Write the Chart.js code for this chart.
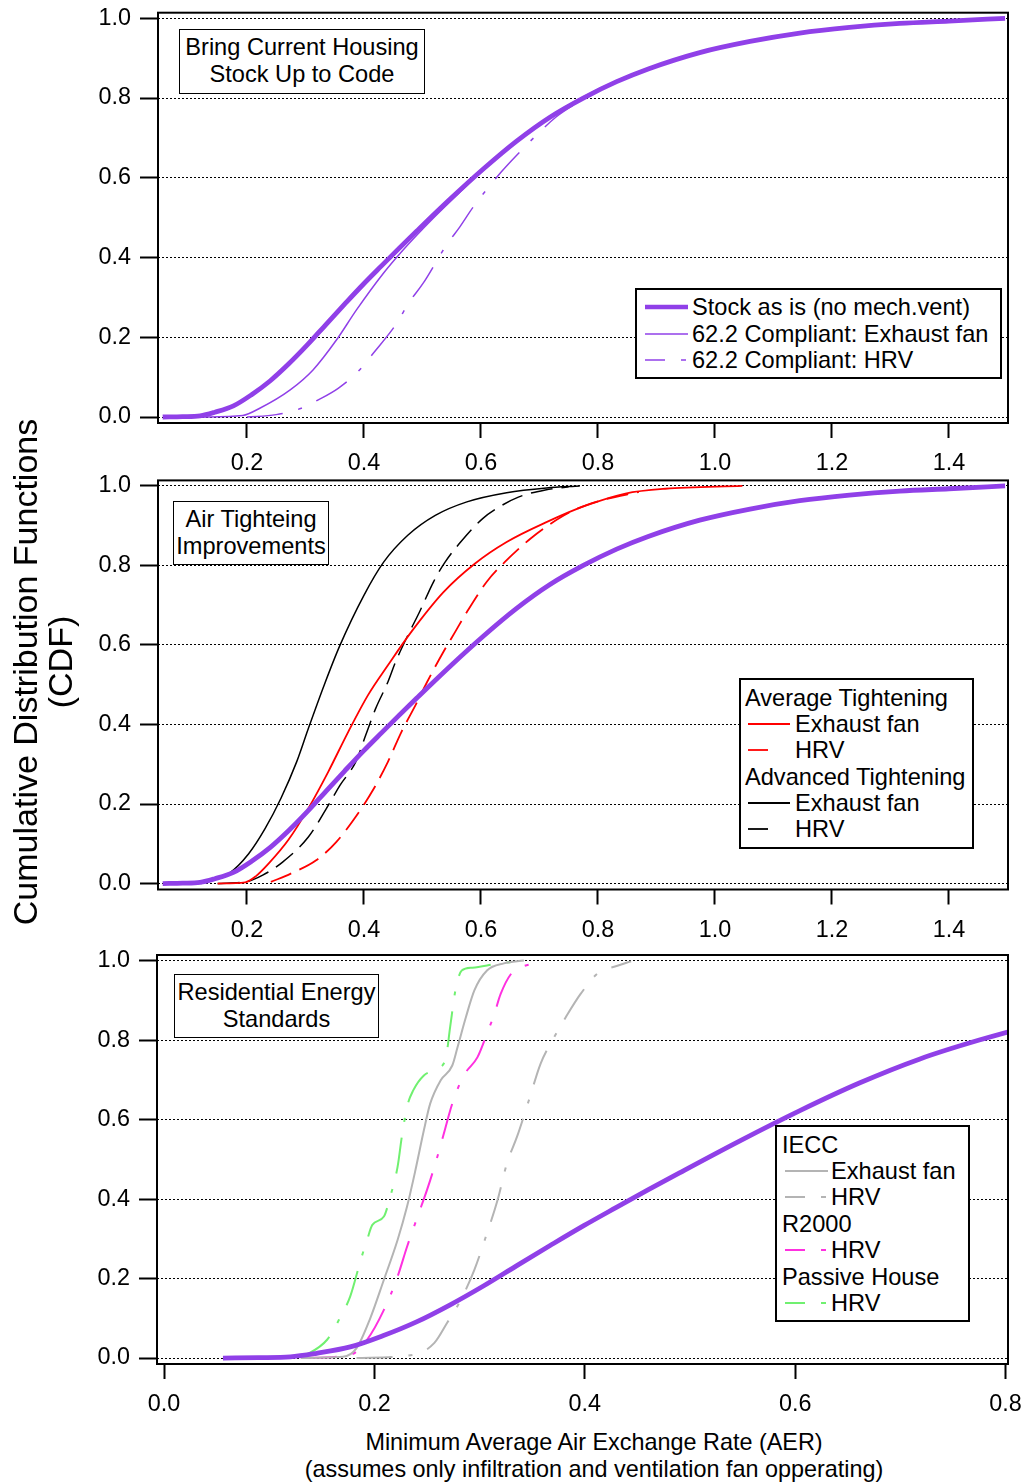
<!DOCTYPE html>
<html>
<head>
<meta charset="utf-8">
<script src="https://cdn.jsdelivr.net/npm/chart.js@4.4.1/dist/chart.umd.min.js"></script>
<style>
  body { margin: 0; background: #fff; font-family: "Liberation Sans", Arial, sans-serif; color: #000; }
  #page { position: relative; width: 1022px; height: 1483px; overflow: hidden; }
  .panel { position: absolute; left: 0; width: 1022px; }
  .box { position: absolute; border: 1.5px solid #000; background: #fff; box-sizing: border-box; }
  .note { text-align: center; font-size: 23.6px; line-height: 27px; padding-top: 4px; }
  .row { position: absolute; font-size: 23.6px; line-height: 26px; height: 26px; white-space: nowrap; }
  .vtitle { position: absolute; font-size: 34px; text-align: center; white-space: nowrap; transform: rotate(-90deg); }
  .xtitle { position: absolute; left: 294px; width: 600px; text-align: center; font-size: 23.4px; line-height: 27px; }
</style>
</head>
<body>
<div id="page">
  <div class="panel" style="top:0;height:490px"><canvas id="c1"></canvas></div>
  <div class="panel" style="top:470px;height:490px"><canvas id="c2"></canvas></div>
  <div class="panel" style="top:945px;height:470px"><canvas id="c3"></canvas></div>
</div>
<script>
// tick values
const yTicks = [0, 0.2, 0.4, 0.6, 0.8, 1.0];
const xTicksAer = [0.2, 0.4, 0.6, 0.8, 1.0, 1.2, 1.4];
const xTicksStd = [0, 0.2, 0.4, 0.6, 0.8];

// stock as is (no mech. vent) - shown in all three panels
const stockX = [0.056, 0.09, 0.12, 0.145, 0.177, 0.208, 0.24, 0.272, 0.304, 0.335, 0.367, 0.399, 0.43, 0.46, 0.49, 0.547, 0.604, 0.661, 0.718, 0.775, 0.832, 0.886, 0.974, 1.06, 1.145, 1.23, 1.316, 1.40, 1.496];
const stockY = [0, 0.001, 0.003, 0.012, 0.028, 0.056, 0.091, 0.134, 0.182, 0.232, 0.283, 0.333, 0.379, 0.423, 0.466, 0.546, 0.622, 0.692, 0.752, 0.8, 0.841, 0.873, 0.914, 0.942, 0.963, 0.977, 0.987, 0.993, 1.0];

// panel 1: 62.2 compliant
const exh622X = [0.12, 0.193, 0.222, 0.274, 0.313, 0.353, 0.387, 0.433, 0.467, 0.518, 0.576, 0.62, 0.68, 0.75, 0.85, 0.95];
const exh622Y = [0, 0.004, 0.022, 0.068, 0.118, 0.193, 0.268, 0.36, 0.419, 0.498, 0.581, 0.645, 0.716, 0.783, 0.855, 0.905];
const hrv622X = [0.2, 0.25, 0.293, 0.322, 0.356, 0.39, 0.416, 0.456, 0.476, 0.501, 0.541, 0.564, 0.587, 0.635, 0.664, 0.695, 0.729, 0.775];
const hrv622Y = [0, 0.006, 0.022, 0.043, 0.072, 0.114, 0.16, 0.235, 0.285, 0.335, 0.431, 0.477, 0.527, 0.615, 0.661, 0.707, 0.753, 0.798];

// panel 2: air tightening
const avgExhX = [0.15, 0.197, 0.215, 0.237, 0.271, 0.305, 0.339, 0.373, 0.407, 0.441, 0.481, 0.536, 0.59, 0.644, 0.712, 0.78, 0.847, 0.915, 1.047];
const avgExhY = [0, 0.003, 0.018, 0.05, 0.11, 0.189, 0.281, 0.381, 0.474, 0.549, 0.633, 0.733, 0.805, 0.859, 0.909, 0.951, 0.981, 0.993, 1.0];
const avgHrvX = [0.241, 0.275, 0.319, 0.353, 0.386, 0.417, 0.441, 0.464, 0.488, 0.508, 0.536, 0.556, 0.576, 0.61, 0.641, 0.685, 0.715, 0.759, 0.807, 0.87];
const avgHrvY = [0.004, 0.025, 0.059, 0.105, 0.168, 0.239, 0.306, 0.381, 0.448, 0.507, 0.583, 0.633, 0.683, 0.759, 0.809, 0.868, 0.901, 0.939, 0.964, 0.985];
const advExhX = [0.122, 0.169, 0.203, 0.231, 0.258, 0.285, 0.305, 0.332, 0.359, 0.4, 0.434, 0.475, 0.522, 0.576, 0.644, 0.712, 0.769];
const advExhY = [0, 0.025, 0.075, 0.138, 0.214, 0.306, 0.39, 0.499, 0.599, 0.725, 0.809, 0.876, 0.926, 0.96, 0.983, 0.995, 1.0];
const advHrvX = [0.15, 0.2, 0.227, 0.261, 0.305, 0.336, 0.359, 0.386, 0.403, 0.42, 0.441, 0.454, 0.475, 0.495, 0.519, 0.539, 0.573, 0.603, 0.631, 0.664, 0.71, 0.75];
const advHrvY = [0, 0.005, 0.021, 0.054, 0.117, 0.189, 0.247, 0.306, 0.373, 0.44, 0.507, 0.557, 0.624, 0.683, 0.759, 0.809, 0.872, 0.918, 0.947, 0.972, 0.99, 0.998];

// panel 3: residential energy standards
const ieccExhX = [0.13, 0.17, 0.183, 0.196, 0.209, 0.222, 0.231, 0.239, 0.247, 0.253, 0.263, 0.274, 0.279, 0.287, 0.295, 0.307, 0.323, 0.342];
const ieccExhY = [0, 0.003, 0.025, 0.1, 0.197, 0.297, 0.381, 0.473, 0.573, 0.64, 0.699, 0.736, 0.782, 0.858, 0.925, 0.975, 0.993, 1.0];
const ieccHrvX = [0.183, 0.237, 0.257, 0.269, 0.282, 0.295, 0.307, 0.317, 0.326, 0.336, 0.347, 0.358, 0.371, 0.382, 0.396, 0.412, 0.431, 0.444];
const ieccHrvY = [0, 0.008, 0.038, 0.088, 0.146, 0.222, 0.314, 0.397, 0.49, 0.56, 0.65, 0.741, 0.808, 0.858, 0.916, 0.967, 0.987, 0.998];
const r2000X = [0.13, 0.177, 0.193, 0.209, 0.222, 0.231, 0.241, 0.25, 0.258, 0.266, 0.274, 0.285, 0.298, 0.307, 0.314, 0.32, 0.33, 0.339, 0.361];
const r2000Y = [0, 0.008, 0.046, 0.121, 0.205, 0.28, 0.356, 0.423, 0.49, 0.565, 0.64, 0.711, 0.757, 0.816, 0.866, 0.916, 0.967, 0.983, 0.996];
const passiveX = [0.13, 0.155, 0.168, 0.177, 0.187, 0.193, 0.198, 0.209, 0.215, 0.222, 0.226, 0.231, 0.237, 0.247, 0.26, 0.268, 0.272, 0.277, 0.283, 0.293, 0.317, 0.336];
const passiveY = [0, 0.046, 0.105, 0.155, 0.247, 0.297, 0.335, 0.356, 0.406, 0.481, 0.556, 0.632, 0.674, 0.711, 0.728, 0.757, 0.833, 0.925, 0.975, 0.982, 0.992, 0.998];

const PURPLE = "#9040e8";
const RED = "#ff0000";
const GRAY = "#b4b4b4";
const MAGENTA = "#ff30e0";
const GREEN = "#70f070";
const DASH = [22, 9];
const DASHDOT = [36, 16, 4, 16];

Chart.defaults.font.family = '"Liberation Sans", Arial, sans-serif';
Chart.defaults.font.size = 23.4;
Chart.defaults.color = "#000";

function series(xs, ys, color, width, dash) {
  return {
    data: xs.map((x, i) => ({ x: x, y: ys[i] })),
    borderColor: color,
    borderWidth: width,
    borderDash: dash || [],
    pointRadius: 0,
    fill: false,
    cubicInterpolationMode: "monotone"
  };
}

const framePlugin = {
  id: "frame",
  afterDatasetsDraw(chart) {
    const a = chart.chartArea;
    const ctx = chart.ctx;
    ctx.save();
    ctx.setLineDash([]);
    ctx.strokeStyle = "#000";
    ctx.lineWidth = 2;
    ctx.strokeRect(a.left, a.top, a.right - a.left, a.bottom - a.top);
    ctx.restore();
  }
};

function makePanel(id, p, datasets) {
  return new Chart(document.getElementById(id), {
    type: "line",
    data: { datasets: datasets },
    options: {
      responsive: true,
      maintainAspectRatio: false,
      animation: false,
      layout: { padding: { top: p.padTop, right: 14, left: 0, bottom: 0 } },
      plugins: { legend: { display: false }, tooltip: { enabled: false } },
      scales: {
        x: {
          type: "linear",
          min: p.xMin,
          max: p.xMax,
          afterBuildTicks: s => { s.ticks = p.xTicks.map(v => ({ value: v })); },
          afterFit: s => { s.height = p.xHeight; s.paddingLeft = 0; s.paddingRight = 0; },
          grid: { drawOnChartArea: false, tickLength: 15, tickWidth: 2, tickColor: "#000", color: "#000" },
          border: { display: false },
          ticks: { padding: 12, maxRotation: 0, autoSkip: false, callback: v => v.toFixed(1) }
        },
        y: {
          type: "linear",
          min: -0.015,
          max: 1.014,
          afterBuildTicks: s => { s.ticks = yTicks.map(v => ({ value: v })); },
          afterFit: s => { s.width = p.left; s.paddingTop = 0; s.paddingBottom = 0; },
          grid: { color: "#000", lineWidth: 1, tickLength: 18, tickWidth: 2, tickColor: "#000", tickBorderDash: [] },
          border: { display: false, dash: [2, 2] },
          ticks: { padding: 9, autoSkip: false, callback: v => v.toFixed(1) }
        }
      }
    },
    plugins: [framePlugin]
  });
}

makePanel("c1", { padTop: 12.7, xHeight: 67, left: 158, xMin: 0.048, xMax: 1.501, xTicks: xTicksAer }, [
  series(stockX, stockY, PURPLE, 4.8),
  series(exh622X, exh622Y, PURPLE, 1.5),
  series(hrv622X, hrv622Y, PURPLE, 1.5, DASHDOT)
]);

makePanel("c2", { padTop: 10.4, xHeight: 70.5, left: 158, xMin: 0.048, xMax: 1.501, xTicks: xTicksAer }, [
  series(stockX, stockY, PURPLE, 4.8),
  series(avgExhX, avgExhY, RED, 1.8),
  series(avgHrvX, avgHrvY, RED, 1.8, DASH),
  series(advExhX, advExhY, "#000", 1.5),
  series(advHrvX, advHrvY, "#000", 1.5, DASH)
]);

makePanel("c3", { padTop: 10, xHeight: 51, left: 157, xMin: -0.0067, xMax: 0.8023, xTicks: xTicksStd }, [
  series(stockX, stockY, PURPLE, 4.8),
  series(ieccExhX, ieccExhY, GRAY, 2),
  series(ieccHrvX, ieccHrvY, GRAY, 2, DASHDOT),
  series(r2000X, r2000Y, MAGENTA, 2, DASHDOT),
  series(passiveX, passiveY, GREEN, 2, DASHDOT)
]);

// ---- text overlays (titles, notes, legends) ----
const page = document.getElementById("page");

function addEl(cls, style, html) {
  const d = document.createElement("div");
  d.className = cls;
  d.style.cssText = style;
  d.innerHTML = html;
  page.appendChild(d);
  return d;
}

// sample line for legends: solid, or explicit segments
function sample(color, width, segs) {
  let s = '<svg width="44" height="26" style="position:absolute;left:0;top:0">';
  segs.forEach(g => {
    s += '<line x1="' + g[0] + '" y1="13" x2="' + g[1] + '" y2="13" stroke="' + color + '" stroke-width="' + width + '"/>';
  });
  return s + "</svg>";
}

function legend(box, rows) {
  addEl("box", "left:" + box.left + "px;top:" + box.top + "px;width:" + box.w + "px;height:" + box.h + "px;border-width:2px", "");
  rows.forEach(r => {
    const top = r.cy - 13;
    if (r.header) {
      addEl("row", "left:" + box.headX + "px;top:" + top + "px", r.label);
    } else {
      addEl("row", "left:" + box.sampleX + "px;top:" + top + "px;width:44px", sample(r.color, r.width, r.segs));
      addEl("row", "left:" + box.textX + "px;top:" + top + "px", r.label);
    }
  });
}

const SOLID = [[0, 43]];
const DASHSEG = [[0, 20]];
const DASHDOTSEG = [[0, 20], [36, 41]];

// y title
addEl("vtitle", "left:-275px;top:652px;width:600px;height:40px;line-height:40px", "Cumulative Distribution Functions");
addEl("vtitle", "left:-240px;top:642px;width:600px;height:40px;line-height:40px", "(CDF)");

// x title
addEl("xtitle", "top:1429px", "Minimum Average Air Exchange Rate (AER)<br>(assumes only infiltration and ventilation fan opperating)");

// panel notes
addEl("box note", "left:179px;top:29px;width:246px;height:65px", "Bring Current Housing<br>Stock Up to Code");
addEl("box note", "left:173px;top:501px;width:156px;height:64px", "Air Tighteing<br>Improvements");
addEl("box note", "left:174px;top:974px;width:205px;height:64px", "Residential Energy<br>Standards");

// legends
legend({ left: 635, top: 288, w: 367, h: 91, sampleX: 645, textX: 692 }, [
  { cy: 307, label: "Stock as is (no mech.vent)", color: PURPLE, width: 4.5, segs: SOLID },
  { cy: 333.5, label: "62.2 Compliant: Exhaust fan", color: PURPLE, width: 1.5, segs: SOLID },
  { cy: 360, label: "62.2 Compliant: HRV", color: PURPLE, width: 1.5, segs: DASHDOTSEG }
]);

legend({ left: 739, top: 678, w: 235, h: 171, headX: 745, sampleX: 748, textX: 795 }, [
  { cy: 698, header: true, label: "Average Tightening" },
  { cy: 724, label: "Exhaust fan", color: RED, width: 1.8, segs: [[0, 42]] },
  { cy: 750, label: "HRV", color: RED, width: 1.8, segs: DASHSEG },
  { cy: 777, header: true, label: "Advanced Tightening" },
  { cy: 803, label: "Exhaust fan", color: "#000", width: 1.8, segs: [[0, 42]] },
  { cy: 829, label: "HRV", color: "#000", width: 1.8, segs: DASHSEG }
]);

legend({ left: 775, top: 1125, w: 195, h: 197, headX: 782, sampleX: 785, textX: 831 }, [
  { cy: 1145, header: true, label: "IECC" },
  { cy: 1171, label: "Exhaust fan", color: GRAY, width: 2, segs: SOLID },
  { cy: 1197, label: "HRV", color: GRAY, width: 2, segs: DASHDOTSEG },
  { cy: 1224, header: true, label: "R2000" },
  { cy: 1250, label: "HRV", color: MAGENTA, width: 2, segs: DASHDOTSEG },
  { cy: 1277, header: true, label: "Passive House" },
  { cy: 1303, label: "HRV", color: GREEN, width: 2, segs: DASHDOTSEG }
]);
</script>
</body>
</html>
